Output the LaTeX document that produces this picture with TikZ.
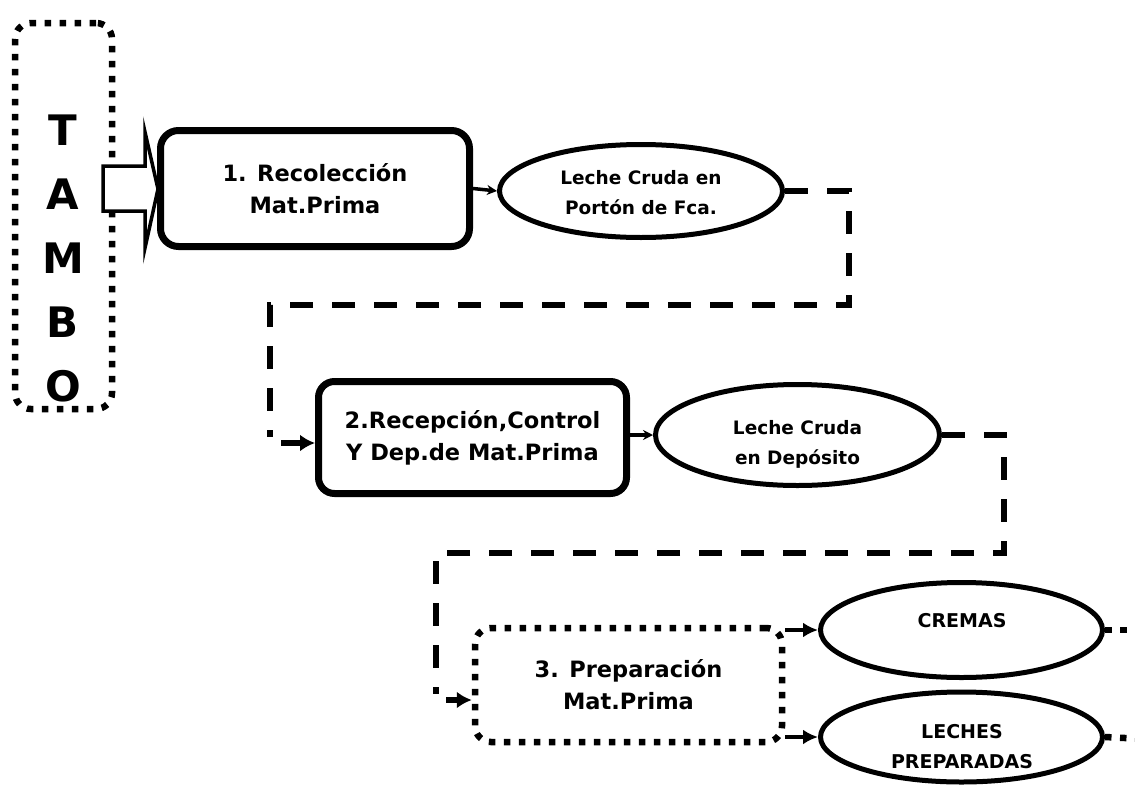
\documentclass[tikz,border=0pt]{standalone}
\usepackage{fontspec}
\setmainfont{DejaVu Sans}
\usetikzlibrary{shapes.geometric,arrows.meta,calc}

\begin{document}
\begin{tikzpicture}[x=1pt,y=-1pt,
  boxtext/.style={align=center, inner sep=0pt, font=\fontsize{22.5}{32}\selectfont\bfseries},
  solidbox/.style={boxtext, draw, line width=7pt, rounded corners=18pt},
  dotbox/.style={boxtext, draw, line width=6.5pt, rounded corners=16pt, dash pattern=on 6.5pt off 8.5pt},
  product/.style={ellipse, draw, line width=5pt, inner sep=0pt},
  ptext/.style={align=center, inner sep=0pt, font=\fontsize{18.5}{30}\selectfont\bfseries},
  ptextb/.style={align=center, inner sep=0pt, font=\fontsize{19}{30}\selectfont\bfseries},
  flow/.style={line width=6pt, dash pattern=on 23pt off 19pt},
  dotflow/.style={line width=6.5pt, dash pattern=on 6.5pt off 8.5pt},
  thinarrow/.style={line width=3.5pt, -{Stealth[length=10pt,width=10pt]}},
  fatarrow/.style={line width=5.5pt, -{Latex[length=15pt,width=17pt]}},
  midarrow/.style={line width=4.5pt, -{Latex[length=15pt,width=15pt]}},
]
\useasboundingbox (0,0) rectangle (1135,787);

% origin of the raw milk
\node[dotbox, minimum width=97pt, minimum height=386pt] (tambo) at (63.5,216) {};
\node[font=\fontsize{42}{64}\selectfont\bfseries, align=center, inner sep=0pt] (tambotxt) at (63,258) {T\\A\\M\\B\\O};

% block arrow from the farm into collection
\path[draw, line width=3.5pt, fill=white, line join=miter]
  (103,166) -- (145,166) -- (145,132) -- (158,189) -- (145,248) -- (145,211) -- (103,211) -- cycle;

% process steps
\node[solidbox, minimum width=309pt, minimum height=116pt] (b1) at (315,188.5) {1. Recolección\\Mat.Prima};
\node[solidbox, minimum width=308pt, minimum height=112pt, rounded corners=16pt] (b2) at (472.5,437.5) {2.Recepción,Control\\Y Dep.de Mat.Prima};
\node[dotbox, minimum width=307pt, minimum height=114pt] (b3) at (628.5,685) {3. Preparación\\Mat.Prima};

% intermediate products
\node[product, minimum width=283pt, minimum height=93pt] (e1) at (641,191) {};
\node[ptext] (e1t) at (641,193) {Leche Cruda en\\Portón de Fca.};
\node[product, minimum width=284pt, minimum height=101pt] (e2) at (797.5,435) {};
\node[ptext] (e2t) at (797.5,444) {Leche Cruda\\en Depósito};
\node[product, minimum width=282pt, minimum height=95pt] (cre) at (961.5,630) {};
\node[ptextb] (cret) at (962,621) {CREMAS};
\node[product, minimum width=282pt, minimum height=90pt] (lec) at (961.5,737) {};
\node[ptextb] (lect) at (962,747) {LECHES\\PREPARADAS};

% connectors
\draw[thinarrow] (b1.east) -- (e1.west);
\draw[thinarrow] (b2.east |- e2.west) -- (e2.west);

\coordinate (k1) at (281,443);
\draw[flow] (e1.east) -- (849,191) -- (849,305) -- (270,305) -- (270,437);
\draw[fatarrow] (k1) -- (k1 -| b2.west);

\coordinate (k2) at (446,700);
\draw[flow] (e2.east) -- (1004,435) -- (1004,553) -- (436,553) -- (436,694);
\draw[fatarrow] (k2) -- (k2 -| b3.west);

\draw[midarrow] (b3.east |- cre.west) -- (cre.west);
\draw[midarrow] (b3.east |- lec.west) -- (lec.west);

\coordinate (o1) at (1145,630);
\coordinate (o2) at (1145,739);
\draw[dotflow] (cre.east) -- (o1);
\draw[dotflow] (lec.east) -- (o2);
\end{tikzpicture}
\end{document}
